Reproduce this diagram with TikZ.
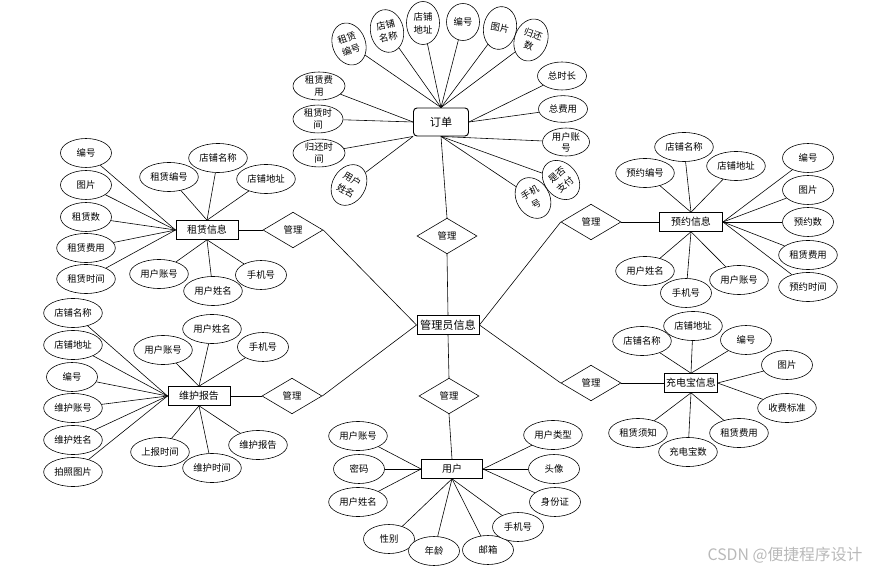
\documentclass[tikz,border=0pt]{standalone}
\usepackage{fontspec}
\newfontfamily\cjk{Noto Sans CJK SC}
\usetikzlibrary{shapes.geometric}

\begin{document}
\begin{tikzpicture}[x=0.03cm, y=-0.03cm, line width=0.5pt,
    every node/.style={font=\cjk\fontsize{8}{9.5}\selectfont},
    attr/.style={ellipse, draw, fill=white, inner sep=0pt, minimum width=1.53cm, minimum height=0.87cm, align=center},
    attrw/.style={attr, minimum width=1.76cm},
    vattr/.style={attr, minimum width=0.99cm, minimum height=1.29cm, font=\cjk\fontsize{8}{11}\selectfont},
    entity/.style={rectangle, draw, line width=0.8pt, fill=white, inner sep=1pt, minimum height=0.56cm, font=\cjk\fontsize{8.5}{10}\selectfont},
    rel/.style={diamond, draw, fill=white, inner sep=0pt, aspect=1.67, minimum width=1.8cm, minimum height=1.07cm}]
    \useasboundingbox (0,0) rectangle (870,571);

    % centre
    \node (admin) [entity, minimum width=1.86cm, font=\cjk\fontsize{9.5}{11}\selectfont] at (448,325) {管理员信息};
    \node (rel1) [rel] at (447,236) {管理};
    \node (rel2) [rel] at (293,230) {管理};
    \node (rel3) [rel] at (292,396) {管理};
    \node (rel4) [rel] at (591,222) {管理};
    \node (rel5) [rel] at (591,383) {管理};
    \node (rel6) [rel] at (449,396) {管理};

    % order
    \node (order) [rectangle, draw, rounded corners=3pt, line width=0.8pt, minimum width=1.65cm, minimum height=0.84cm, font=\cjk\fontsize{9.5}{11}\selectfont] at (441,122) {订单};
    \node (ozbh) [vattr, rotate=20] at (349,44) {租赁\\编号};
    \node (odmc) [vattr, rotate=12] at (387,31) {店铺\\名称};
    \node (oddz) [vattr] at (423,23) {店铺\\地址};
    \node (obh) [vattr, minimum height=1.11cm] at (463,22) {编号};
    \node (otp) [vattr, rotate=-10] at (500,28) {图片};
    \node (ogh) [vattr, rotate=-20] at (531,40) {归还\\数};
    \node (ozsc) [attr, minimum width=1.47cm, minimum height=0.84cm] at (562,76) {总时长};
    \node (ozfy) [attr, minimum width=1.47cm, minimum height=0.8cm] at (563,109) {总费用};
    \node (ozh) [attr, minimum width=1.41cm, minimum height=0.81cm] at (566,142) {用户账\\号};
    \node (ozf) [vattr, rotate=40] at (561,180) {是否\\支付};
    \node (osj) [vattr, rotate=30] at (533,198) {手机\\号};
    \node (oxm) [vattr, rotate=-30] at (349,185) {用户\\姓名};
    \node (oghsj) [attr, minimum width=1.56cm, minimum height=0.81cm] at (319,153) {归还时\\间};
    \node (ozlsj) [attr, minimum width=1.5cm, minimum height=0.81cm] at (318,119) {租赁时\\间};
    \node (ozlfy) [attr, minimum width=1.56cm, minimum height=0.84cm] at (319,86) {租赁费\\用};

    \draw (order.north) -- (ozbh);
    \draw (order.north) -- (odmc);
    \draw (order.north) -- (oddz);
    \draw (order.north) -- (obh);
    \draw (order.north) -- (otp);
    \draw (order.north) -- (ogh);
    \draw (order.east) -- (ozsc);
    \draw (order.east) -- (ozfy);
    \draw (order.south) -- (ozh);
    \draw (order.south) -- (ozf);
    \draw (order.south) -- (osj);
    \draw (order.south west) -- (oxm);
    \draw (order.south west) -- (oghsj);
    \draw (order.west) -- (ozlsj);
    \draw (order.west) -- (ozlfy);
    \draw (order.south) -- (rel1.north);

    % rent
    \node (rent) [entity, minimum width=1.86cm] at (207,230) {租赁信息};
    \node (r1) [attr] at (86,153) {编号};
    \node (r2) [attr] at (86,185) {图片};
    \node (r3) [attr] at (86,217) {租赁数};
    \node (r4) [attrw] at (86,248) {租赁费用};
    \node (r5) [attrw] at (86,279) {租赁时间};
    \node (r6) [attrw] at (169,177) {租赁编号};
    \node (r7) [attrw] at (218,158) {店铺名称};
    \node (r8) [attrw] at (266,179) {店铺地址};
    \node (r9) [attrw] at (159,274) {用户账号};
    \node (r10) [attrw] at (213,291) {用户姓名};
    \node (r11) [attr] at (261,275) {手机号};
    \foreach \a in {r1,r2,r3,r4,r5} \draw (rent.west) -- (\a);
    \foreach \a in {r6,r7,r8} \draw (rent.north) -- (\a);
    \foreach \a in {r9,r10,r11} \draw (rent.south) -- (\a);

    % booking
    \node (book) [entity, minimum width=1.89cm] at (691,222) {预约信息};
    \node (b1) [attrw] at (645,173) {预约编号};
    \node (b2) [attrw] at (684,147) {店铺名称};
    \node (b3) [attrw] at (736,166) {店铺地址};
    \node (b4) [attr] at (808,158) {编号};
    \node (b5) [attr] at (808,190) {图片};
    \node (b6) [attr] at (808,222) {预约数};
    \node (b7) [attrw] at (808,255) {租赁费用};
    \node (b8) [attrw] at (808,287) {预约时间};
    \node (b9) [attrw] at (645,271) {用户姓名};
    \node (b10) [attr] at (686,293) {手机号};
    \node (b11) [attrw] at (739,280) {用户账号};
    \foreach \a in {b1,b2,b3} \draw (book.north) -- (\a);
    \foreach \a in {b4,b5,b6,b7,b8} \draw (book.east) -- (\a);
    \foreach \a in {b9,b10,b11} \draw (book.south) -- (\a);

    % repair
    \node (repair) [entity, minimum width=1.86cm] at (199,396) {维护报告};
    \node (m1) [attrw] at (73,313) {店铺名称};
    \node (m2) [attrw] at (73,345) {店铺地址};
    \node (m3) [attr] at (72,377) {编号};
    \node (m4) [attrw] at (73,408) {维护账号};
    \node (m5) [attrw] at (73,440) {维护姓名};
    \node (m6) [attrw] at (73,472) {拍照图片};
    \node (m7) [attrw] at (163,350) {用户账号};
    \node (m8) [attrw] at (212,329) {用户姓名};
    \node (m9) [attr] at (263,347) {手机号};
    \node (m10) [attrw] at (160,452) {上报时间};
    \node (m11) [attrw] at (212,468) {维护时间};
    \node (m12) [attrw] at (258,445) {维护报告};
    \foreach \a in {m1,m2,m3,m4,m5,m6} \draw (repair.west) -- (\a);
    \foreach \a in {m7,m8,m9} \draw (repair.north) -- (\a);
    \foreach \a in {m10,m11,m12} \draw (repair.south) -- (\a);

    % power bank
    \node (power) [entity, minimum width=1.56cm] at (691,383) {充电宝信息};
    \node (p1) [attrw] at (642,341) {店铺名称};
    \node (p2) [attrw] at (693,326) {店铺地址};
    \node (p3) [attr] at (746,340) {编号};
    \node (p4) [attr] at (787,365) {图片};
    \node (p5) [attrw] at (787,408) {收费标准};
    \node (p6) [attrw] at (638,433) {租赁须知};
    \node (p7) [attrw] at (688,452) {充电宝数};
    \node (p8) [attrw] at (739,433) {租赁费用};
    \foreach \a in {p1,p2,p3} \draw (power.north) -- (\a);
    \foreach \a in {p4,p5} \draw (power.east) -- (\a);
    \foreach \a in {p6,p7,p8} \draw (power.south) -- (\a);

    % user
    \node (user) [entity, minimum width=1.83cm] at (452,469) {用户};
    \node (u1) [attrw] at (358,436) {用户账号};
    \node (u2) [attr] at (359,469) {密码};
    \node (u3) [attrw] at (358,502) {用户姓名};
    \node (u4) [attrw] at (553,435) {用户类型};
    \node (u5) [attr] at (554,469) {头像};
    \node (u6) [attr] at (555,502) {身份证};
    \node (u7) [attr] at (389,539) {性别};
    \node (u8) [attr] at (434,551) {年龄};
    \node (u9) [attr] at (488,550) {邮箱};
    \node (u10) [attr] at (518,527) {手机号};
    \foreach \a in {u1,u2,u3} \draw (user.west) -- (\a);
    \foreach \a in {u4,u5,u6} \draw (user.east) -- (\a);
    \foreach \a in {u7,u8,u9,u10} \draw (user.south) -- (\a);

    % relations
    \draw (rel1.south) -- (admin.north);
    \draw (rel2.east) -- (admin.west);
    \draw (rel3.east) -- (admin.west);
    \draw (rel4.west) -- (admin.east);
    \draw (rel5.west) -- (admin.east);
    \draw (admin.south) -- (rel6.north);
    \draw (rel6.south) -- (user.north);
    \draw (rent.east) -- (rel2.west);
    \draw (repair.east) -- (rel3.west);
    \draw (rel4.east) -- (book.west);
    \draw (rel5.east) -- (power.west);

    \node (mark) [text=gray!55, font=\cjk\fontsize{13.5}{15}\selectfont] at (785,555) {CSDN @便捷程序设计};
\end{tikzpicture}
\end{document}
